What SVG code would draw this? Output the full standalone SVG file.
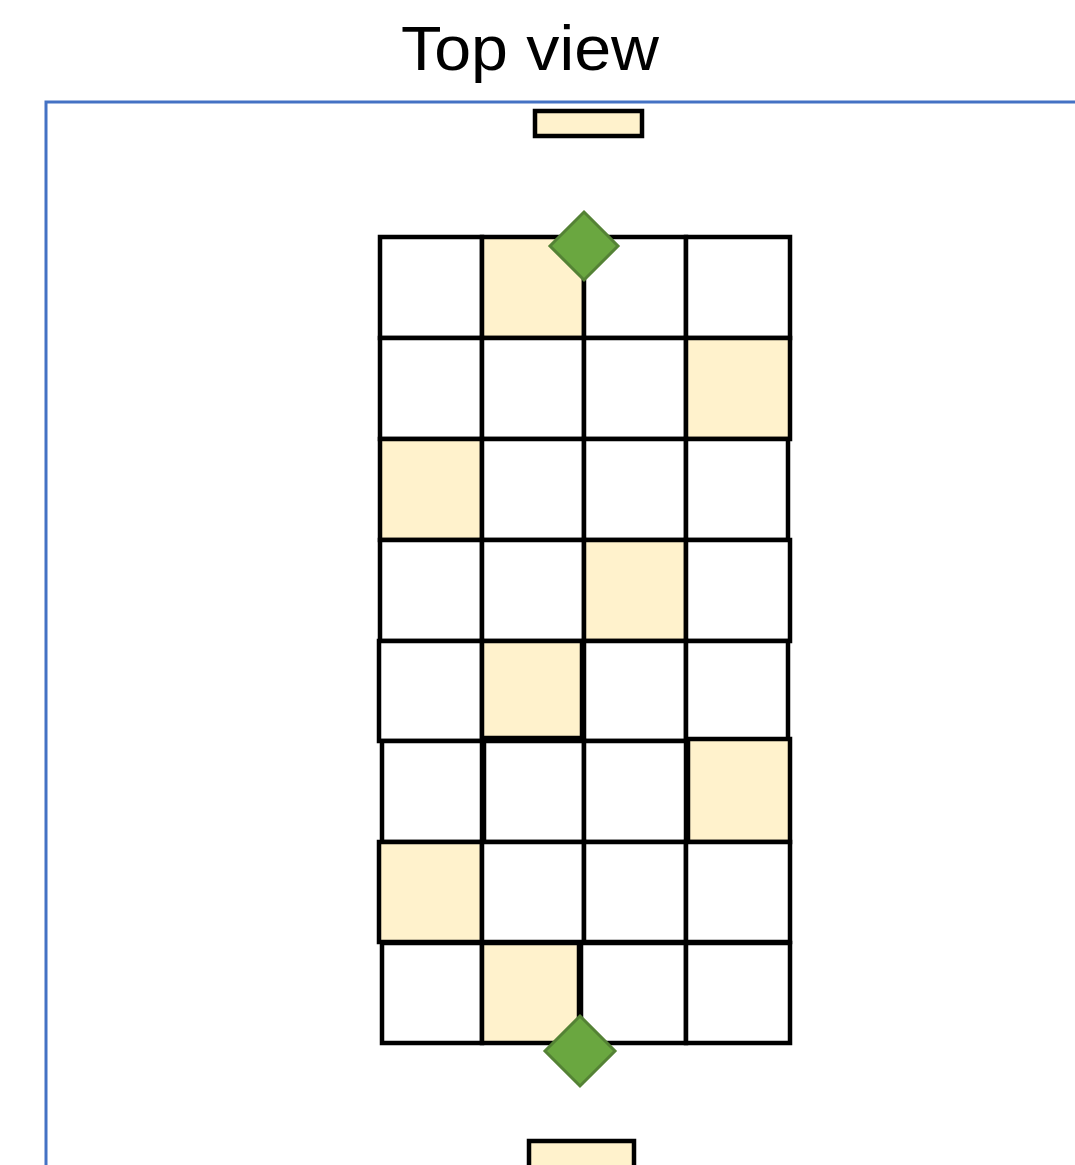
<svg xmlns="http://www.w3.org/2000/svg" width="1075" height="1165" viewBox="0 0 1075 1165">
<style>
.title{font-family:"Liberation Sans","Open Sans",sans-serif;font-size:63px;fill:#000}
.cell{fill:#fff;stroke:#000;stroke-width:4.5}
.hi{fill:#FFF2CC}
.pad{fill:#FFF2CC;stroke:#000;stroke-width:4.5}
.gem{fill:#6AA740;stroke:#548235;stroke-width:3}
</style>
<rect width="1075" height="1165" fill="#fff"/>
<text class="title" x="530" y="70" text-anchor="middle" textLength="258" lengthAdjust="spacingAndGlyphs">Top view</text>
<path d="M46,1165 V102 H1075" fill="none" stroke="#4472C4" stroke-width="3"/>
<g id="pad-top"><rect class="pad" x="535" y="111" width="107" height="25"/></g>
<g id="grid">
<rect class="cell" x="380" y="237" width="102" height="101"/>
<rect class="cell hi" x="482" y="237" width="102" height="101"/>
<rect class="cell" x="584" y="237" width="102" height="101"/>
<rect class="cell" x="686" y="237" width="104" height="101"/>
<rect class="cell" x="380" y="338" width="102" height="101"/>
<rect class="cell" x="482" y="338" width="102" height="101"/>
<rect class="cell" x="584" y="338" width="102" height="101"/>
<rect class="cell hi" x="686" y="338" width="104" height="101"/>
<rect class="cell hi" x="380" y="439" width="102" height="101"/>
<rect class="cell" x="482" y="439" width="102" height="101"/>
<rect class="cell" x="584" y="439" width="102" height="101"/>
<rect class="cell" x="686" y="439" width="102" height="101"/>
<rect class="cell" x="380" y="540" width="102" height="101"/>
<rect class="cell" x="482" y="540" width="102" height="101"/>
<rect class="cell hi" x="584" y="540" width="102" height="101"/>
<rect class="cell" x="686" y="540" width="104" height="101"/>
<rect class="cell" x="379" y="641" width="103" height="100"/>
<rect class="cell hi" x="482" y="641" width="100" height="97"/>
<rect class="cell" x="584" y="641" width="102" height="100"/>
<rect class="cell" x="686" y="641" width="102" height="100"/>
<rect class="cell" x="382" y="741" width="100" height="101"/>
<rect class="cell" x="484" y="741" width="100" height="101"/>
<rect class="cell" x="584" y="741" width="102" height="101"/>
<rect class="cell hi" x="688" y="739" width="102" height="103"/>
<rect class="cell hi" x="379" y="842" width="103" height="100"/>
<rect class="cell" x="482" y="842" width="102" height="100"/>
<rect class="cell" x="584" y="842" width="102" height="100"/>
<rect class="cell" x="686" y="842" width="104" height="100"/>
<rect class="cell" x="382" y="943" width="100" height="100"/>
<rect class="cell hi" x="482" y="943" width="97" height="100"/>
<rect class="cell" x="581" y="943" width="105" height="100"/>
<rect class="cell" x="686" y="943" width="104" height="100"/>
</g>
<g id="diamond-top"><polygon class="gem" points="584,212 618,246 584,280 550,246"/></g>
<g id="diamond-bottom"><polygon class="gem" points="580,1016 615,1051 580,1086 545,1051"/></g>
<g id="pad-bottom"><rect class="pad" x="529" y="1141" width="105" height="40"/></g>
<g id="connectors"/>
</svg>
